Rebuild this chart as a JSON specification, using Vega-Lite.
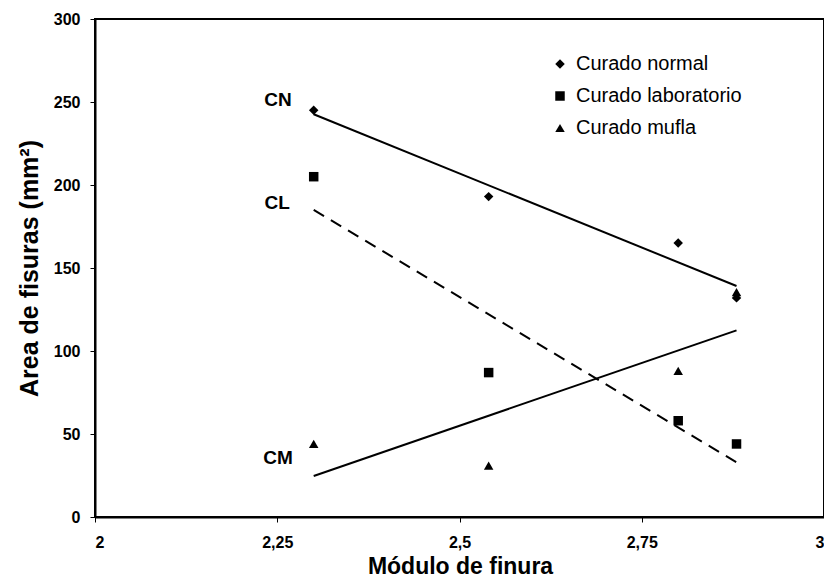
{
  "$schema": "https://vega.github.io/schema/vega-lite/v6.json",
  "autosize": "none",
  "padding": {"left": 95, "top": 19, "right": 0, "bottom": 60},
  "width": 729,
  "height": 498,
  "background": "white",
  "config": {
    "font": "Liberation Sans",
    "view": {"stroke": "black", "strokeWidth": 2},
    "axis": {
      "grid": false,
      "domainColor": "black",
      "domainWidth": 2,
      "tickColor": "black",
      "tickWidth": 1,
      "tickSize": 5,
      "labelColor": "black",
      "labelFont": "Liberation Sans",
      "labelFontWeight": "bold",
      "labelFontSize": 16,
      "titleColor": "black",
      "titleFont": "Liberation Sans",
      "titleFontWeight": "bold"
    }
  },
  "datasets": {
    "puntos": [
      {"serie": "Curado normal", "x": 2.3, "y": 245},
      {"serie": "Curado normal", "x": 2.54, "y": 193},
      {"serie": "Curado normal", "x": 2.8, "y": 165},
      {"serie": "Curado normal", "x": 2.88, "y": 132},
      {"serie": "Curado laboratorio", "x": 2.3, "y": 205},
      {"serie": "Curado laboratorio", "x": 2.54, "y": 87},
      {"serie": "Curado laboratorio", "x": 2.8, "y": 58},
      {"serie": "Curado laboratorio", "x": 2.88, "y": 44},
      {"serie": "Curado mufla", "x": 2.3, "y": 44},
      {"serie": "Curado mufla", "x": 2.54, "y": 31},
      {"serie": "Curado mufla", "x": 2.8, "y": 88},
      {"serie": "Curado mufla", "x": 2.88, "y": 135.5}
    ],
    "etiquetas": [
      {"t": "CN", "x": 2.251, "y": 251},
      {"t": "CL", "x": 2.25, "y": 189},
      {"t": "CM", "x": 2.251, "y": 35.5}
    ]
  },
  "layer": [
    {
      "data": {"name": "puntos"},
      "transform": [
        {"filter": "datum.serie !== 'Curado laboratorio'"},
        {"regression": "y", "on": "x", "groupby": ["serie"], "extent": [2.3, 2.88]}
      ],
      "mark": {"type": "line", "color": "black", "strokeWidth": 2},
      "encoding": {
        "x": {"field": "x", "type": "quantitative"},
        "y": {"field": "y", "type": "quantitative"},
        "detail": {"field": "serie"}
      }
    },
    {
      "data": {"name": "puntos"},
      "transform": [
        {"filter": "datum.serie === 'Curado laboratorio'"},
        {"regression": "y", "on": "x", "groupby": ["serie"], "extent": [2.3, 2.88]}
      ],
      "mark": {"type": "line", "color": "black", "strokeWidth": 2, "strokeDash": [12, 8]},
      "encoding": {
        "x": {"field": "x", "type": "quantitative"},
        "y": {"field": "y", "type": "quantitative"},
        "detail": {"field": "serie"}
      }
    },
    {
      "data": {"name": "puntos"},
      "mark": {"type": "point", "filled": true, "color": "black", "opacity": 1, "size": 90},
      "encoding": {
        "x": {
          "field": "x",
          "type": "quantitative",
          "scale": {"domain": [2, 3], "nice": false, "zero": false},
          "axis": {
            "values": [2, 2.25, 2.5, 2.75, 3],
            "labelExpr": "replace(format(datum.value, ''), '.', ',')",
            "labelPadding": 12,
            "title": "Módulo de finura",
            "titleFontSize": 23,
            "titleBaseline": "alphabetic",
            "titleY": 56,
            "titleX": 365
          }
        },
        "y": {
          "field": "y",
          "type": "quantitative",
          "scale": {"domain": [0, 300], "nice": false},
          "axis": {
            "values": [0, 50, 100, 150, 200, 250, 300],
            "labelPadding": 10,
            "title": "Area de fisuras (mm²)",
            "titleFontSize": 25,
            "titleAngle": -90,
            "titleBaseline": "alphabetic",
            "titleX": -58,
            "titleY": 249
          }
        },
        "shape": {
          "field": "serie",
          "type": "nominal",
          "scale": {
            "domain": ["Curado normal", "Curado laboratorio", "Curado mufla"],
            "range": ["diamond", "square", "triangle-up"]
          },
          "legend": {
            "title": null,
            "orient": "none",
            "legendX": 455,
            "legendY": 35,
            "padding": 0,
            "rowPadding": 12,
            "labelFont": "Liberation Sans",
            "labelFontSize": 20,
            "labelColor": "black",
            "labelOffset": 6,
            "labelLimit": 0,
            "symbolSize": 90,
            "symbolFillColor": "black",
            "symbolStrokeColor": "black",
            "symbolStrokeWidth": 0
          }
        }
      }
    },
    {
      "data": {"name": "etiquetas"},
      "mark": {"type": "text", "font": "Liberation Sans", "fontWeight": "bold", "fontSize": 19, "color": "black", "baseline": "middle", "align": "center"},
      "encoding": {
        "x": {"field": "x", "type": "quantitative"},
        "y": {"field": "y", "type": "quantitative"},
        "text": {"field": "t"}
      }
    }
  ]
}
